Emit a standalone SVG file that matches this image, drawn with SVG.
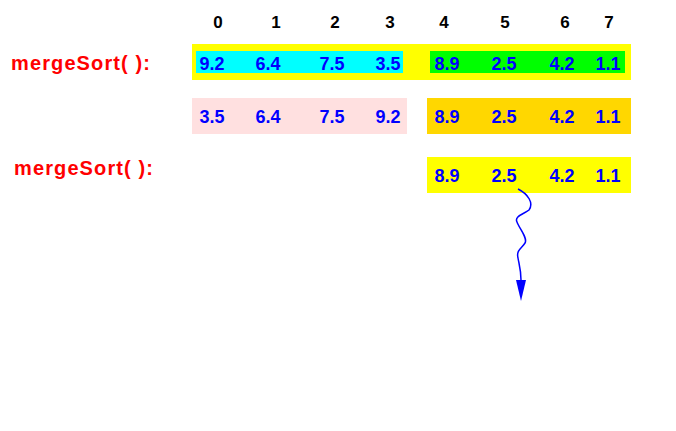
<svg xmlns="http://www.w3.org/2000/svg" width="676" height="431" viewBox="0 0 676 431">
<style>
text{font-family:"Liberation Sans",Arial,sans-serif;font-weight:bold}
.idx{font-size:17px;fill:#000;text-anchor:middle}
.v{font-size:18px;fill:#0000ff;text-anchor:middle}
.lbl{font-size:20px;fill:#ff0000}
</style>
<defs>
<marker id="ah" markerWidth="22" markerHeight="10" refX="0" refY="5" orient="auto" markerUnits="userSpaceOnUse" viewBox="0 0 22 10">
<path d="M0,0 L21,5 L0,10 Z" fill="#0000ff"/>
</marker>
</defs>
<g id="indices">
<text class="idx" x="218" y="28">0</text>
<text class="idx" x="276" y="28">1</text>
<text class="idx" x="335" y="28">2</text>
<text class="idx" x="390" y="28">3</text>
<text class="idx" x="444" y="28">4</text>
<text class="idx" x="505" y="28">5</text>
<text class="idx" x="565" y="28">6</text>
<text class="idx" x="609" y="28">7</text>
</g>
<g id="label1"><text class="lbl" x="11" y="70" textLength="139" lengthAdjust="spacing">mergeSort( ):</text></g>
<g id="label2"><text class="lbl" x="14" y="175" textLength="139" lengthAdjust="spacing">mergeSort( ):</text></g>
<g id="row1">
<rect x="192" y="44" width="439" height="36" fill="#ffff00"/>
<rect x="196" y="51" width="207" height="22" fill="#00ffff"/>
<rect x="430" y="51" width="195" height="22" fill="#00ff00"/>
<text class="v" x="212" y="70">9.2</text>
<text class="v" x="268" y="70">6.4</text>
<text class="v" x="332" y="70">7.5</text>
<text class="v" x="388" y="70">3.5</text>
<text class="v" x="447" y="70">8.9</text>
<text class="v" x="504" y="70">2.5</text>
<text class="v" x="562" y="70">4.2</text>
<text class="v" x="608" y="70">1.1</text>
</g>
<g id="row2">
<rect x="192" y="98" width="215" height="36" fill="#ffe0e0"/>
<rect x="427" y="98" width="204" height="36" fill="#ffd700"/>
<text class="v" x="212" y="123">3.5</text>
<text class="v" x="268" y="123">6.4</text>
<text class="v" x="332" y="123">7.5</text>
<text class="v" x="388" y="123">9.2</text>
<text class="v" x="447" y="123">8.9</text>
<text class="v" x="504" y="123">2.5</text>
<text class="v" x="562" y="123">4.2</text>
<text class="v" x="608" y="123">1.1</text>
</g>
<g id="row3">
<rect x="427" y="157" width="204" height="36" fill="#ffff00"/>
<text class="v" x="447" y="182">8.9</text>
<text class="v" x="504" y="182">2.5</text>
<text class="v" x="562" y="182">4.2</text>
<text class="v" x="608" y="182">1.1</text>
</g>
<g id="connectors">
<path d="M518,189 C528,194 534,203 529,210 C524,214 514,216 517,222 C519,228 528,238 525,243 C522,248 516,250 518,258 C519,264 521,270 521,280" fill="none" stroke="#0000ff" stroke-width="1.5" marker-end="url(#ah)"/>
</g>
</svg>
